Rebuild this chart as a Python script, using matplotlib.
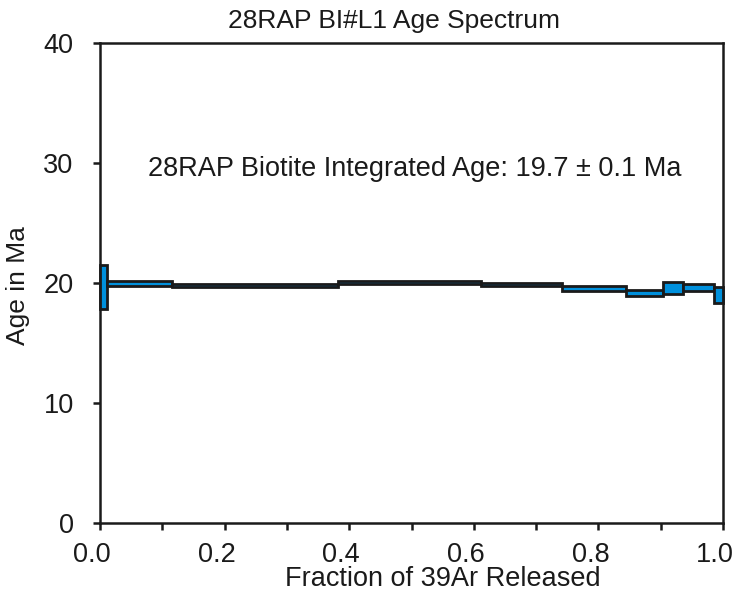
import matplotlib
matplotlib.use('Agg')
import matplotlib.pyplot as plt
from matplotlib.patches import Rectangle
from matplotlib.transforms import ScaledTranslation

plt.rcParams['font.family'] = ['Liberation Sans', 'DejaVu Sans']

# Step boundaries (cumulative fraction of 39Ar released)
frac_left = [0.000, 0.012, 0.115, 0.382, 0.612, 0.741, 0.845, 0.903, 0.936, 0.985]
frac_right = [0.012, 0.115, 0.382, 0.612, 0.741, 0.845, 0.903, 0.936, 0.985, 1.000]
# Apparent age per step (Ma) and 1-sigma error
ages = [19.65, 19.97, 19.80, 20.03, 19.88, 19.57, 19.17, 19.56, 19.64, 19.00]
errors = [1.85, 0.22, 0.14, 0.12, 0.13, 0.20, 0.25, 0.50, 0.28, 0.70]

titulo = '28RAP BI#L1 Age Spectrum'
nota = '28RAP Biotite Integrated Age: 19.7 \u00b1 0.1 Ma'
x_ticks = [0.0, 0.2, 0.4, 0.6, 0.8, 1.0]
x_labels = ['0.0', '0.2', '0.4', '0.6', '0.8', '1.0']
y_ticks = [0, 10, 20, 30, 40]

negro = '#1a1a1a'

fig = plt.figure(figsize=(7.36, 5.91), dpi=100)
ax = fig.add_axes([0.1359, 0.115, 0.8465, 0.812])

for x0, x1, a, e in zip(frac_left, frac_right, ages, errors):
    ax.add_patch(Rectangle((x0, a - e), x1 - x0, 2 * e,
                           facecolor='#0090DC', edgecolor=negro,
                           linewidth=2, clip_on=False, zorder=3))

ax.set_xlim(0, 1)
ax.set_ylim(0, 40)
ax.set_xticks(x_ticks)
ax.set_xticklabels(x_labels)
ax.set_xticks([0.1, 0.3, 0.5, 0.7, 0.9], minor=True)
ax.set_yticks(y_ticks)

for s in ax.spines.values():
    s.set_linewidth(1.8)
    s.set_color(negro)
ax.tick_params(axis='both', which='both', direction='out', width=1.8,
               color=negro, labelsize=19.5, labelcolor=negro)
ax.tick_params(axis='x', which='both', length=5, pad=9)
ax.tick_params(axis='y', length=5, pad=14)

# x tick labels sit a little left of their ticks in the original
desplazamiento = ScaledTranslation(-8 / 100, 0, fig.dpi_scale_trans)
for lbl in ax.get_xticklabels():
    lbl.set_transform(lbl.get_transform() + desplazamiento)

fig.text(394 / 736, 1 - 28 / 591, titulo, fontsize=19, color=negro,
         ha='center', va='baseline')
fig.text(443 / 736, 1 - 586 / 591, 'Fraction of 39Ar Released', fontsize=19.5,
         color=negro, ha='center', va='baseline')
fig.text(18 / 736, 1 - 286 / 591, 'Age in Ma', fontsize=19, color=negro,
         rotation=90, ha='center', va='center')
ax.text(0.505, 29.5, nota, fontsize=19.5, color=negro, ha='center', va='center')

plt.savefig('out.png', dpi=100)
